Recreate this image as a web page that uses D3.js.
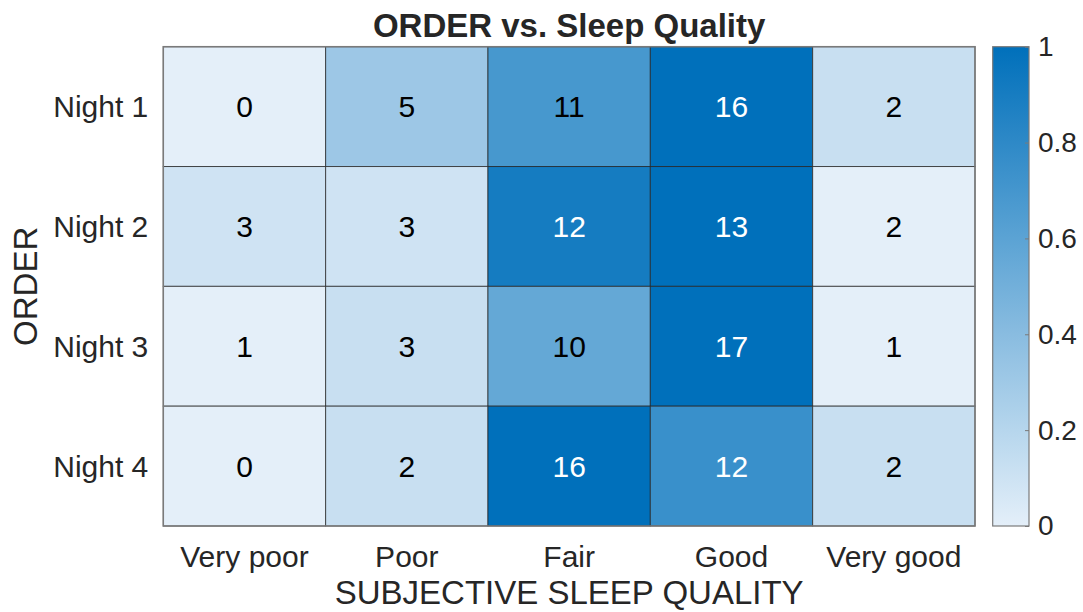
<!DOCTYPE html>
<html>
<head>
<meta charset="utf-8">
<script src="https://cdn.jsdelivr.net/npm/d3@7"></script>
<style>
  body { margin: 0; background: #fff; }
  svg { font-family: "Liberation Sans", Arial, Helvetica, sans-serif; }
</style>
</head>
<body>
<div class="visHolder"></div>
<script>
const nights = ["Night 1", "Night 2", "Night 3", "Night 4"];
const quality = ["Very poor", "Poor", "Fair", "Good", "Very good"];

// counts per night, one entry per quality level
const night1 = [0, 5, 11, 16, 2];
const night2 = [3, 3, 12, 13, 2];
const night3 = [1, 3, 10, 17, 1];
const night4 = [0, 2, 16, 12, 2];
const counts = [night1, night2, night3, night4];

const colorbarTicks = [0, 0.2, 0.4, 0.6, 0.8, 1];

const width = 1083;
const height = 612;
const plotLeft = 163.3;
const plotRight = 975;
const plotTop = 46.7;
const plotBottom = 526;

// each row is scaled from its own min to its own max
const cells = [];
counts.forEach((row, i) => {
  const lo = d3.min(row);
  const hi = d3.max(row);
  row.forEach((v, j) => {
    cells.push({
      night: nights[i],
      quality: quality[j],
      value: v,
      norm: (v - lo) / (hi - lo),
    });
  });
});

const xScale = d3.scaleBand().domain(quality).range([plotLeft, plotRight]);
const yScale = d3.scaleBand().domain(nights).range([plotTop, plotBottom]);
const colorScale = d3
  .scaleLinear()
  .domain([0, 1])
  .range(["#e4eff9", "#0070bb"])
  .interpolate(d3.interpolateRgb);

const svg = d3
  .select(".visHolder")
  .append("svg")
  .attr("width", width)
  .attr("height", height);

// cells
svg
  .append("g")
  .selectAll("rect")
  .data(cells)
  .enter()
  .append("rect")
  .attr("x", (d) => xScale(d.quality))
  .attr("y", (d) => yScale(d.night))
  .attr("width", xScale.bandwidth())
  .attr("height", yScale.bandwidth())
  .attr("fill", (d) => colorScale(d.norm))
  .attr("stroke", "rgba(38,38,38,0.75)")
  .attr("stroke-width", 1);

// outer box
svg
  .append("rect")
  .attr("x", plotLeft)
  .attr("y", plotTop)
  .attr("width", plotRight - plotLeft)
  .attr("height", plotBottom - plotTop)
  .attr("fill", "none")
  .attr("stroke", "#7a7a7a")
  .attr("stroke-width", 1.5);

// cell labels
svg
  .append("g")
  .selectAll("text")
  .data(cells)
  .enter()
  .append("text")
  .attr("x", (d) => xScale(d.quality) + xScale.bandwidth() / 2)
  .attr("y", (d) => yScale(d.night) + yScale.bandwidth() / 2)
  .attr("dy", "0.36em")
  .attr("text-anchor", "middle")
  .attr("font-size", 30)
  .attr("fill", (d) => (d.norm > 0.7 ? "#ffffff" : "#000000"))
  .text((d) => d.value);

// axes
const xAxis = d3.axisBottom(xScale).tickSize(0).tickPadding(20);
const yAxis = d3.axisLeft(yScale).tickSize(0).tickPadding(15);

const gx = svg
  .append("g")
  .attr("transform", `translate(0, ${plotBottom})`)
  .call(xAxis);
const gy = svg
  .append("g")
  .attr("transform", `translate(${plotLeft}, 0)`)
  .call(yAxis);

[gx, gy].forEach((g) => {
  g.select(".domain").remove();
  g.selectAll("text")
    .attr("font-size", 30)
    .attr("fill", "#262626")
    .attr("font-family", null);
});
gy.selectAll("text").attr("dy", "0.36em");

// title and axis labels
svg
  .append("text")
  .attr("x", (plotLeft + plotRight) / 2)
  .attr("y", 37)
  .attr("text-anchor", "middle")
  .attr("font-size", 33)
  .attr("font-weight", "bold")
  .attr("fill", "#262626")
  .text("ORDER vs. Sleep Quality");

svg
  .append("text")
  .attr("x", (plotLeft + plotRight) / 2)
  .attr("y", 604)
  .attr("text-anchor", "middle")
  .attr("font-size", 33)
  .attr("fill", "#262626")
  .text("SUBJECTIVE SLEEP QUALITY");

svg
  .append("text")
  .attr("transform", `translate(37, ${(plotTop + plotBottom) / 2}) rotate(-90)`)
  .attr("text-anchor", "middle")
  .attr("font-size", 33)
  .attr("fill", "#262626")
  .text("ORDER");

// colorbar
const cbLeft = 992.7;
const cbRight = 1029;
const cbScale = d3.scaleLinear().domain([0, 1]).range([plotBottom, plotTop]);

const grad = svg
  .append("defs")
  .append("linearGradient")
  .attr("id", "cbGrad")
  .attr("x1", 0)
  .attr("y1", 1)
  .attr("x2", 0)
  .attr("y2", 0);
grad
  .selectAll("stop")
  .data(colorbarTicks)
  .enter()
  .append("stop")
  .attr("offset", (d) => d)
  .attr("stop-color", (d) => colorScale(d));

svg
  .append("rect")
  .attr("x", cbLeft)
  .attr("y", plotTop)
  .attr("width", cbRight - cbLeft)
  .attr("height", plotBottom - plotTop)
  .attr("fill", "url(#cbGrad)")
  .attr("stroke", "#7a7a7a")
  .attr("stroke-width", 1.2);

const cbAxis = d3
  .axisRight(cbScale)
  .tickValues(colorbarTicks)
  .tickFormat(d3.format("~g"))
  .tickSize(-4)
  .tickPadding(9);

const gc = svg
  .append("g")
  .attr("transform", `translate(${cbRight}, 0)`)
  .call(cbAxis);
gc.select(".domain").remove();
gc.selectAll("line").attr("stroke", "#7a7a7a");
gc.selectAll("text")
  .attr("font-size", 28)
  .attr("fill", "#262626")
  .attr("font-family", null);
</script>
</body>
</html>
